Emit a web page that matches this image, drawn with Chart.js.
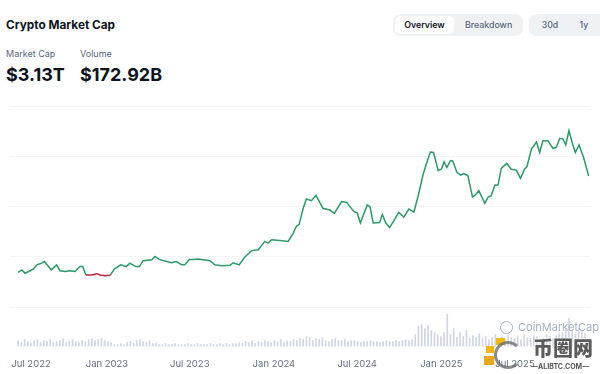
<!DOCTYPE html>
<html><head><meta charset="utf-8">
<script src="https://cdn.jsdelivr.net/npm/chart.js@4.4.1/dist/chart.umd.min.js"></script>
<style>
html,body{margin:0;padding:0;background:#fff;width:600px;height:374px;overflow:hidden;font-family:Inter,"Noto Sans",sans-serif;}
#wrap{position:relative;width:600px;height:374px;overflow:hidden}
.title{position:absolute;left:6px;top:18px;font-size:11.8px;line-height:15px;font-weight:700;color:#0d1421;white-space:nowrap}
.lbl{position:absolute;top:48px;font-size:9px;line-height:12px;color:#58667e;white-space:nowrap}
.val{position:absolute;top:64px;font-size:18px;line-height:22px;font-weight:700;color:#0d1421;white-space:nowrap}
.grp{position:absolute;top:14px;height:22px;background:#eff2f5;border-radius:7px;}
.btn{position:absolute;top:2px;height:18px;line-height:18px;font-size:8.8px;color:#58667e;text-align:center;font-weight:500;white-space:nowrap}
.btn.on{background:#fff;border-radius:5px;color:#0d1421;font-weight:600}
#cvbox{position:absolute;left:0;top:95px;width:600px;height:287px}
.cmc{position:absolute;left:518px;top:320px;font-size:11px;line-height:14px;color:#a6b0c3;white-space:nowrap}
.cmcicon{position:absolute;left:500px;top:321px;width:11px;height:11px;border:1.5px solid #a6b0c3;border-radius:50%}
.wm{position:absolute;left:533px;top:336px;font-family:"Noto Sans CJK SC",sans-serif;font-size:20px;line-height:24px;font-weight:900;color:#5b5b5b;text-shadow:0 0 2px #fff,0 0 2px #fff;white-space:nowrap}
.wm2{position:absolute;left:531px;top:362px;font-size:7px;line-height:9px;color:#555;font-weight:700;white-space:nowrap}
.ring{position:absolute;left:494px;top:341px;width:22px;height:22px;border:3px solid rgba(110,110,110,0.8);border-radius:50%;border-right-color:transparent}
.yb{position:absolute;background:#f0b90b}
</style>
</head>
<body>
<div id="wrap">
  <div class="title">Crypto Market Cap</div>
  <div class="lbl" style="left:6px">Market Cap</div>
  <div class="lbl" style="left:80px">Volume</div>
  <div class="val" style="left:6px">$3.13T</div>
  <div class="val" style="left:80px">$172.92B</div>
  <div class="grp" style="left:393px;width:130px">
    <div class="btn on" style="left:2px;width:59px">Overview</div>
    <div class="btn" style="left:72px;width:47px">Breakdown</div>
  </div>
  <div class="grp" style="left:529px;width:80px">
    <div class="btn" style="left:8px;width:26px">30d</div>
    <div class="btn" style="left:45px;width:20px">1y</div>
  </div>
  <div id="cvbox"><canvas id="c" width="600" height="287"></canvas></div>
  <div class="cmcicon"></div>
  <div class="cmc">CoinMarketCap</div>
  <div class="yb" style="left:486px;top:346px;width:8px;height:7px"></div>
  <div class="yb" style="left:484px;top:356px;width:10px;height:9px;background:#e9a81a"></div>
  <div class="yb" style="left:496px;top:338px;width:9px;height:7px"></div>
  <div class="ring"></div>
  <div class="wm">币圈网</div>
  <div class="wm2">—ALIBTC.COM—</div>
</div>
<script>
// Days since 2022-07-01 for each market-cap reading
const capDays = [-10,-2,5,16,23,31,41,47,55,62,
74,81,92,103,114,125,131,138,151,162,
169,180,191,200,214,226,234,247,255,263,
282,289,298,315,325,336,347,354,364,373,
383,409,420,435,453,460,473,485,500,515,
529,536,544,562,580,591,598,604,613,620,
631,641,656,671,681,697,708,724,731,738,
753,759,766,780,786,794,802,811,822,833,
844,855,864,875,882,891,898,908,915,921,
927,935,940,949,957,964,973,983,988,997,
1010,1017,1024,1032,1039,1046,1058,1068,1079,1088,
1097,1102,1112,1123,1130,1137,1148,1159,1166,1174,
1181,1187,1194,1201,1208,1216,1226,1237];
// Total market cap, trillions USD
const marketCapT = [0.83,0.89,0.81,0.87,0.91,1.01,1.05,1.09,0.99,0.89,
1.01,0.87,0.85,0.87,0.85,0.97,0.97,0.77,0.77,0.80,
0.77,0.75,0.76,0.91,1.01,0.97,1.05,0.97,0.97,1.11,
1.13,1.21,1.14,1.09,1.06,1.09,1.01,1.01,1.14,1.14,
1.15,1.11,1.01,0.99,1.00,1.06,1.01,1.19,1.35,1.37,
1.57,1.53,1.61,1.59,1.57,1.76,1.93,1.97,2.36,2.58,
2.54,2.67,2.36,2.32,2.24,2.52,2.50,2.28,2.25,2.01,
2.44,2.40,2.01,2.02,2.21,2.00,1.90,2.06,2.26,2.15,
2.34,2.27,2.64,3.16,3.41,3.70,3.69,3.26,3.29,3.47,
3.33,3.50,3.49,3.22,3.15,3.19,3.14,2.63,2.66,2.78,
2.48,2.62,2.66,2.91,2.92,3.31,3.43,3.29,3.27,3.07,
3.30,3.35,3.77,3.94,3.69,3.97,3.97,3.79,3.81,4.03,
4.01,3.87,4.21,3.93,3.69,3.87,3.57,3.13];
// Weekly volume, billions USD (first week starts day -10)
const volumeStartDay = -10;
const volumeB = [72,48,84,60,36,72,84,48,72,60,84,48,60,72,96,48,60,84,60,48,72,60,84,96,72,84,
96,72,60,48,
24,24,36,24,
48,60,36,72,84,60,48,72,36,
36,24,24,36,24,24,36,24,24,24,36,24,24,36,24,24,24,36,24,24,36,24,36,24,36,36,
48,36,60,48,72,36,60,48,72,60,48,72,60,84,48,72,60,84,72,
96,84,120,108,72,96,84,108,72,60,84,96,72,72,
84,60,72,72,60,48,60,60,72,60,60,48,60,72,60,60,72,60,72,84,72,84,
144,240,264,216,252,192,168,144,
120,168,384,
144,216,108,168,120,192,96,132,108,156,
96,120,84,108,144,96,120,84,132,108,96,120,84,144,108,96,132,120,84,108,144,120,96,132,156,
168,204,336,192,144,216,180,156];
// X-axis tick labels and their day positions
const tickLabels = ['Jul 2022','Jan 2023','Jul 2023','Jan 2024','Jul 2024','Jan 2025','Jul 2025'];
const tickDays = [18,184,365,549,731,915,1076];
// Y grid values (trillions)
const yGridT = [0,1.2,2.4,3.6,4.8];

const capPoints = capDays.map((d,i)=>({x:d,y:marketCapT[i]}));
const volPoints = volumeB.map((v,i)=>({x:volumeStartDay+7*i,y:v}));
const base = marketCapT[0];
const GREEN = '#2a9a66', RED = '#c3243a';

Chart.defaults.font.family = 'Inter, "Noto Sans", sans-serif';

new Chart(document.getElementById('c'), {
  type: 'line',
  data: {
    datasets: [
      {
        type: 'line',
        data: capPoints,
        yAxisID: 'y',
        borderColor: GREEN,
        borderWidth: 1.5,
        pointRadius: 0,
        tension: 0,
        order: 1,
        segment: {
          borderColor: ctx => (ctx.p0.parsed.y < base && ctx.p1.parsed.y < base) ? RED : GREEN
        }
      },
      {
        type: 'bar',
        data: volPoints,
        yAxisID: 'y2',
        backgroundColor: '#cfd5e2',
        barThickness: 1,
        order: 2
      }
    ]
  },
  options: {
    responsive: false,
    devicePixelRatio: 1,
    animation: false,
    layout: { padding: { left: 10, right: 10, top: 11, bottom: 0 } },
    plugins: { legend: { display: false }, tooltip: { enabled: false } },
    scales: {
      x: {
        type: 'linear',
        min: -28, max: 1240,
        offset: false,
        grid: { display: false, drawTicks: false },
        border: { display: false },
        afterBuildTicks: axis => { axis.ticks = tickDays.map(v => ({ value: v })); },
        afterFit: axis => { axis.paddingLeft = 0; axis.paddingRight = 0; },
        ticks: {
          autoSkip: false, maxRotation: 0, padding: 12,
          color: '#616e85', font: { size: 9.5 },
          callback: v => { const i = tickDays.indexOf(v); return i >= 0 ? tickLabels[i] : ''; }
        }
      },
      y: {
        min: -0.94, max: 4.8,
        grid: { color: '#f4f5f8', lineWidth: 1, drawTicks: false },
        border: { display: false },
        afterBuildTicks: axis => { axis.ticks = yGridT.map(v => ({ value: v })); },
        ticks: { display: false }
      },
      y2: {
        display: false,
        min: 0, max: 2870
      }
    }
  }
});
</script>
</body></html>
